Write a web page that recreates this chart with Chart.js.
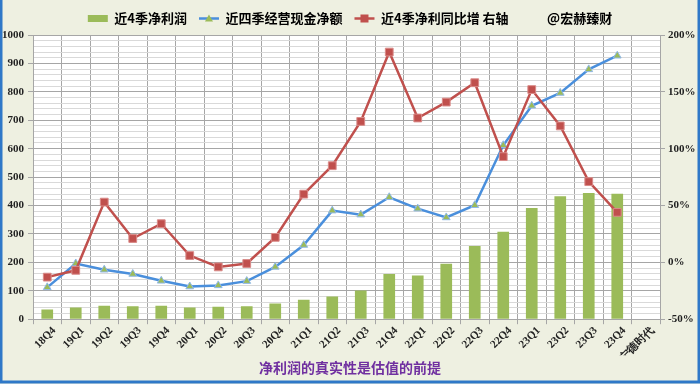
<!DOCTYPE html>
<html>
<head>
<meta charset="utf-8">
<script src="https://cdn.jsdelivr.net/npm/chart.js@4"></script>
<style>
  html, body { margin: 0; padding: 0; background: #eef0e1; }
  #wrap { width: 700px; height: 384px; position: relative; }
</style>
</head>
<body>
<div id="wrap"><canvas id="c" width="700" height="384"></canvas></div>
<script>
// Quarterly categories plus the trailing empty "宁德时代" slot
const QUARTERS = ["18Q4", "19Q1", "19Q2", "19Q3", "19Q4", "20Q1", "20Q2", "20Q3", "20Q4",
  "21Q1", "21Q2", "21Q3", "21Q4", "22Q1", "22Q2", "22Q3", "22Q4",
  "23Q1", "23Q2", "23Q3", "23Q4", "宁德时代"];

// 近4季净利润 (left axis)
const NET_PROFIT = [34, 41, 47, 46, 47, 41, 44, 46, 55, 68, 80, 101, 159, 154, 195, 258, 308,
  391, 433, 444, 441, null];
// 近四季经营现金净额 (left axis)
const OP_CASH = [112, 196, 174, 159, 135, 115, 119, 134, 184, 261, 382, 368, 429, 389, 358, 401, 612,
  751, 796, 879, 927, null];
// 近4季净利同比增 (right axis, %)
const PROFIT_YOY = [-13, -7, 53, 21, 34, 6, -4, -1, 22, 60, 85, 124, 185, 127, 141, 158, 93,
  152, 120, 71, 44, null];

const LEGEND_NAMES = ["近4季净利润", "近四季经营现金净额", "近4季净利同比增 右轴", "@宏赫臻财"];
const TITLE = "净利润的真实性是估值的前提";

const GREEN = "#9bbb59";
const BLUE = "#4a8fdc";
const RED = "#c0504d";
const SERIF = "'Liberation Serif', 'DejaVu Serif', serif";
const CJK = "'Noto Sans CJK SC', sans-serif";

// page background, white plot area and the blue frame
const frame = {
  id: "frame",
  beforeDraw(chart) {
    const { ctx, chartArea: a } = chart;
    ctx.save();
    ctx.fillStyle = "#eef0e1";
    ctx.fillRect(0, 0, chart.width, chart.height);
    ctx.fillStyle = "#ffffff";
    ctx.fillRect(a.left, a.top, a.right - a.left, a.bottom - a.top);
    ctx.strokeStyle = "#2f78c8";
    ctx.lineWidth = 3;
    ctx.beginPath();
    ctx.moveTo(1, 0); ctx.lineTo(1, chart.height - 2);
    ctx.lineTo(chart.width - 1, chart.height - 2); ctx.lineTo(chart.width - 1, 0);
    ctx.stroke();
    ctx.restore();
  },
};

// line + marker swatches for the two line series in the legend
const legendMarks = {
  id: "legendMarks",
  afterDraw(chart) {
    const boxes = chart.legend.legendHitBoxes;
    const { ctx } = chart;
    const specs = [null, { c: BLUE, s: "triangle" }, { c: RED, s: "rect" }, null];
    ctx.save();
    boxes.forEach((b, i) => {
      const sp = specs[i];
      if (!sp) return;
      const cy = b.top + b.height / 2;
      const x0 = b.left, x1 = b.left + 20;
      ctx.strokeStyle = sp.c;
      ctx.lineWidth = 2.5;
      ctx.beginPath(); ctx.moveTo(x0, cy); ctx.lineTo(x1, cy); ctx.stroke();
      const mx = (x0 + x1) / 2;
      if (sp.s === "rect") {
        ctx.fillStyle = RED;
        ctx.fillRect(mx - 4, cy - 4, 8, 8);
      } else {
        ctx.fillStyle = GREEN;
        ctx.beginPath();
        ctx.moveTo(mx, cy - 4); ctx.lineTo(mx + 4, cy + 3); ctx.lineTo(mx - 4, cy + 3);
        ctx.closePath(); ctx.fill();
      }
    });
    ctx.restore();
  },
};

new Chart(document.getElementById("c"), {
  data: {
    labels: QUARTERS,
    datasets: [
      {
        type: "line", label: LEGEND_NAMES[2], data: PROFIT_YOY, yAxisID: "y2",
        borderColor: RED, backgroundColor: RED, borderWidth: 2.5,
        pointStyle: "rect", pointRadius: 5.5, pointBorderColor: "#d98a88", pointBorderWidth: 1,
        tension: 0, order: 1,
      },
      {
        type: "line", label: LEGEND_NAMES[1], data: OP_CASH, yAxisID: "y",
        borderColor: BLUE, backgroundColor: GREEN, borderWidth: 2.5,
        pointStyle: "triangle", pointRadius: 4.5, pointBorderColor: "#8fb8e8", pointBorderWidth: 1,
        tension: 0, order: 2,
      },
      {
        type: "bar", label: LEGEND_NAMES[0], data: NET_PROFIT, yAxisID: "y",
        backgroundColor: GREEN, categoryPercentage: 1, barPercentage: 0.41, order: 3,
      },
    ],
  },
  options: {
    responsive: false,
    animation: false,
    layout: { padding: { left: 0, right: 0, top: 0, bottom: 0 } },
    plugins: {
      legend: {
        position: "top",
        labels: {
          font: { family: CJK, size: 13, weight: "bold" },
          color: "#222",
          boxWidth: 20,
          boxHeight: 7,
          padding: 12,
          generateLabels: () => [
            { text: LEGEND_NAMES[0], fillStyle: GREEN, strokeStyle: GREEN, lineWidth: 0, datasetIndex: 2 },
            { text: LEGEND_NAMES[1], fillStyle: "rgba(0,0,0,0)", strokeStyle: "rgba(0,0,0,0)", lineWidth: 0, datasetIndex: 1 },
            { text: LEGEND_NAMES[2], fillStyle: "rgba(0,0,0,0)", strokeStyle: "rgba(0,0,0,0)", lineWidth: 0, datasetIndex: 0 },
            { text: LEGEND_NAMES[3], fillStyle: "rgba(0,0,0,0)", strokeStyle: "rgba(0,0,0,0)", lineWidth: 0, datasetIndex: 3 },
          ],
        },
      },
      title: {
        display: true, position: "bottom", text: TITLE,
        color: "#7030a0", font: { family: CJK, size: 14, weight: "bold" },
        padding: { top: 4, bottom: 8 },
      },
      tooltip: { enabled: false },
    },
    scales: {
      x: {
        offset: true,
        grid: { offset: true, color: "#a6a6a6", tickLength: 5, tickColor: "#a6a6a6" },
        border: { color: "#a6a6a6" },
        ticks: {
          font: { family: SERIF, size: 11, weight: "bold" }, color: "#222",
          maxRotation: 45, minRotation: 45, autoSkip: false, padding: 0, labelOffset: 7,
        },
        afterFit: (s) => { s.height = 36; },
      },
      y: {
        position: "left", min: 0, max: 1000,
        ticks: {
          stepSize: 20, autoSkip: false,
          font: { family: SERIF, size: 11, weight: "bold" }, color: "#222",
          callback: (v) => (v % 100 === 0 ? v : ""),
          padding: 4,
        },
        grid: {
          color: (c) => (c.tick && c.tick.value % 100 === 0 ? "#a6a6a6" : "#d9d9d9"),
          tickColor: (c) => (c.tick && c.tick.value % 100 === 0 ? "#a6a6a6" : "rgba(0,0,0,0)"),
          tickLength: 5,
        },
        border: { color: "#a6a6a6" },
        afterFit: (s) => { s.width = 33; },
      },
      y2: {
        position: "right", min: -50, max: 200,
        ticks: {
          stepSize: 50, font: { family: SERIF, size: 11, weight: "bold" }, color: "#222",
          callback: (v) => v + "%", padding: 3,
        },
        grid: { drawOnChartArea: false, tickLength: 5, tickColor: "#a6a6a6" },
        border: { color: "#a6a6a6" },
        afterFit: (s) => { s.width = 40; },
      },
    },
  },
  plugins: [frame, legendMarks],
});
</script>
</body>
</html>
